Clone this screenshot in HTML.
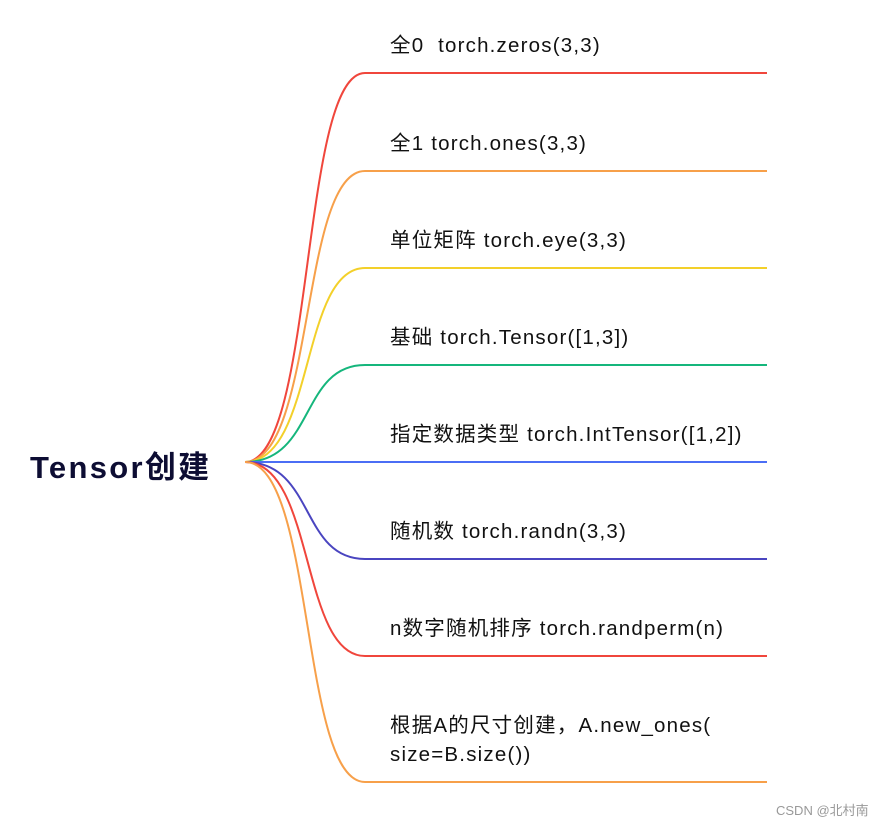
<!DOCTYPE html>
<html><head><meta charset="utf-8"><style>
body{margin:0;background:#fff;width:891px;height:826px;overflow:hidden;position:relative;font-family:"Liberation Sans","Noto Sans CJK SC",sans-serif}
.l{position:absolute;left:390px;font-size:20.5px;color:#111;white-space:nowrap;line-height:29px;letter-spacing:1.2px}
</style></head><body>
<svg width="891" height="826" style="position:absolute;left:0;top:0" fill="none" stroke-width="2">
<path d="M245 462 C315 462 300 73 365 73 H767" stroke="#f0463c"/>
<path d="M245 462 C315 462 300 171 365 171 H767" stroke="#f7a04a"/>
<path d="M245 462 C315 462 300 268 365 268 H767" stroke="#f3d02a"/>
<path d="M245 462 C315 462 300 365 365 365 H767" stroke="#15b67c"/>
<path d="M245 462 H767" stroke="#4b6ef5"/>
<path d="M245 462 C315 462 300 559 365 559 H767" stroke="#4a45c0"/>
<path d="M245 462 C315 462 300 656 365 656 H767" stroke="#f0463c"/>
<path d="M245 462 C315 462 300 782 365 782 H767" stroke="#f7a04a"/>
</svg>
<div style="position:absolute;left:30px;top:442px;font-size:31px;font-weight:bold;color:#0d0d33;letter-spacing:2.3px">Tensor创建</div>
<div class="l" style="top:31px">全0&nbsp; torch.zeros(3,3)</div>
<div class="l" style="top:129px">全1 torch.ones(3,3)</div>
<div class="l" style="top:226px">单位矩阵 torch.eye(3,3)</div>
<div class="l" style="top:323px">基础 torch.Tensor([1,3])</div>
<div class="l" style="top:420px">指定数据类型 torch.IntTensor([1,2])</div>
<div class="l" style="top:517px">随机数 torch.randn(3,3)</div>
<div class="l" style="top:614px">n数字随机排序 torch.randperm(n)</div>
<div class="l" style="top:711px">根据A的尺寸创建，A.new_ones(<br>size=B.size())</div>
<div style="position:absolute;left:776px;top:800px;font-size:13px;color:#999">CSDN @北村南</div>
</body></html>
